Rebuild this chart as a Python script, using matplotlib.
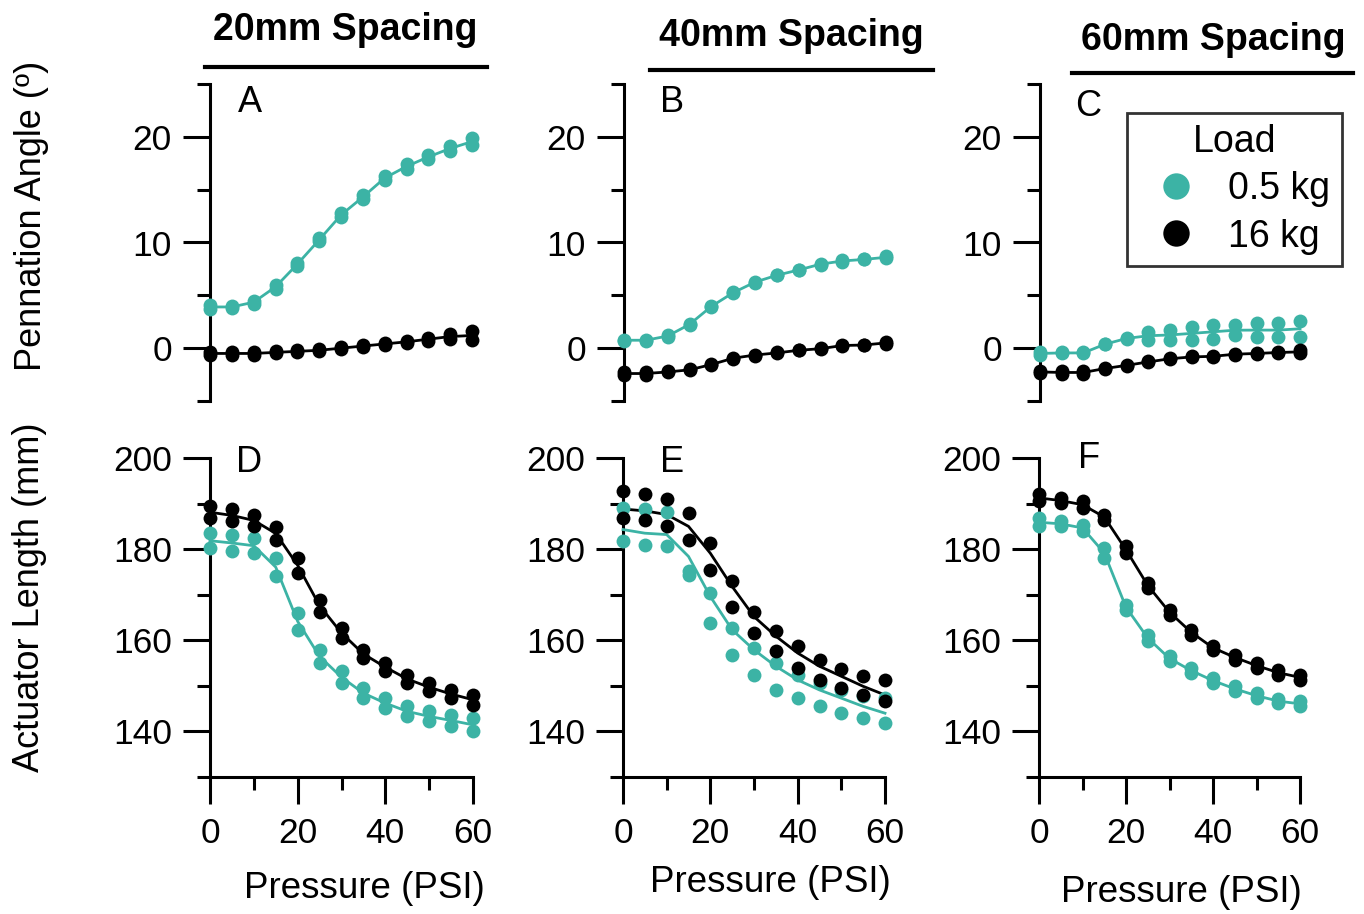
import matplotlib
matplotlib.use("Agg")
import matplotlib.pyplot as plt
from matplotlib.lines import Line2D
import numpy as np

plt.rcParams['font.family'] = ['Liberation Sans', 'DejaVu Sans']

# ---------------- data ----------------
pressure = [0, 5, 10, 15, 20, 25, 30, 35, 40, 45, 50, 55, 60]

# Pennation angle (deg) -- two trials per load
A_teal_1 = [4.1, 4.0, 4.5, 6.0, 8.1, 10.4, 12.8, 14.5, 16.3, 17.4, 18.3, 19.1, 19.9]
A_teal_2 = [3.7, 3.8, 4.2, 5.6, 7.8, 10.1, 12.4, 14.1, 15.9, 17.0, 17.9, 18.7, 19.2]
A_black_1 = [-0.4, -0.4, -0.4, -0.3, -0.2, -0.1, 0.1, 0.3, 0.5, 0.7, 1.0, 1.3, 1.6]
A_black_2 = [-0.6, -0.6, -0.6, -0.5, -0.4, -0.3, -0.1, 0.1, 0.3, 0.5, 0.7, 0.9, 0.8]

B_teal_1 = [0.8, 0.8, 1.2, 2.3, 4.0, 5.3, 6.3, 6.9, 7.4, 8.0, 8.3, 8.4, 8.7]
B_teal_2 = [0.7, 0.7, 1.1, 2.2, 3.9, 5.2, 6.2, 6.9, 7.4, 7.9, 8.2, 8.4, 8.5]
B_black_1 = [-2.3, -2.3, -2.2, -2.0, -1.5, -0.9, -0.6, -0.4, -0.2, 0.0, 0.3, 0.3, 0.6]
B_black_2 = [-2.5, -2.5, -2.3, -2.1, -1.6, -1.0, -0.7, -0.5, -0.2, -0.1, 0.2, 0.3, 0.4]

C_teal_1 = [-0.4, -0.4, -0.4, 0.4, 1.0, 1.55, 1.7, 2.0, 2.2, 2.2, 2.35, 2.35, 2.6]
C_teal_2 = [-0.6, -0.5, -0.5, 0.35, 0.85, 0.8, 0.8, 0.8, 0.9, 1.2, 1.07, 1.07, 1.07]
C_black_1 = [-2.15, -2.2, -2.2, -1.85, -1.55, -1.25, -0.95, -0.78, -0.72, -0.52, -0.45, -0.35, -0.2]
C_black_2 = [-2.35, -2.4, -2.4, -2.0, -1.7, -1.35, -1.05, -0.88, -0.82, -0.62, -0.55, -0.47, -0.5]

# Actuator length (mm)
D_teal_1 = [183.5, 183.2, 182.4, 178.1, 166.0, 157.9, 153.2, 149.5, 147.3, 145.5, 144.4, 143.7, 142.9]
D_teal_2 = [180.2, 179.5, 179.1, 174.0, 162.3, 155.0, 150.6, 147.3, 145.1, 143.3, 142.2, 141.1, 140.0]
D_black_1 = [189.4, 188.7, 187.6, 184.8, 178.1, 168.9, 162.7, 157.9, 155.0, 152.4, 150.6, 149.1, 148.0]
D_black_2 = [186.8, 186.1, 185.0, 182.1, 174.8, 166.3, 160.5, 156.1, 153.2, 150.6, 148.8, 147.3, 145.9]

E_teal_1 = [189.0, 188.7, 188.1, 175.1, 170.4, 162.7, 158.3, 155.0, 152.4, 150.6, 149.1, 147.7, 147.3]
E_teal_2 = [181.7, 181.0, 180.6, 174.4, 163.8, 156.8, 152.4, 149.1, 147.3, 145.5, 144.0, 142.9, 141.8]
E_black_1 = [192.7, 192.2, 190.9, 187.9, 181.3, 172.9, 166.3, 162.0, 158.7, 155.7, 153.7, 152.1, 151.2]
E_black_2 = [186.8, 186.5, 185.0, 182.1, 175.5, 167.4, 161.6, 157.6, 153.9, 151.3, 149.5, 148.0, 146.6]
E_teal_fit = [184.3, 183.5, 183.2, 178.4, 169.6, 162.3, 157.9, 154.3, 151.3, 149.1, 147.3, 145.5, 144.0]
E_black_fit = [188.8, 188.4, 187.6, 185.0, 179.1, 171.8, 165.2, 160.9, 157.2, 154.3, 152.1, 149.9, 148.0]

F_teal_1 = [186.8, 186.1, 185.4, 180.2, 167.8, 161.2, 156.6, 153.9, 151.7, 149.9, 148.4, 147.1, 146.6]
F_teal_2 = [185.0, 185.0, 183.9, 178.1, 166.7, 159.8, 155.4, 152.8, 150.6, 148.8, 147.3, 146.2, 145.5]
F_black_1 = [192.0, 191.2, 190.5, 187.6, 180.6, 172.6, 166.7, 162.3, 158.8, 156.8, 155.0, 153.4, 152.4]
F_black_2 = [190.5, 190.1, 189.0, 186.5, 179.1, 171.5, 165.6, 161.2, 157.9, 155.7, 153.9, 152.4, 151.3]

loads = ['0.5 kg', '16 kg']
spacings = ['20mm Spacing', '40mm Spacing', '60mm Spacing']
panel_letters = ['A', 'B', 'C', 'D', 'E', 'F']
top_major = [0, 10, 20]
top_minor = [-5, 5, 15, 25]
bot_major = [140, 160, 180, 200]
bot_minor = [130, 150, 170, 190]
x_major = [0, 20, 40, 60]
x_minor = [10, 30, 50]

TEAL = '#3CB3A5'
BLACK = '#000000'

W, H = 1364, 914
fig = plt.figure(figsize=(W / 100, H / 100), dpi=100)


def fx(px):
    return px / W


def fy(py):
    return 1 - py / H


# axes rectangles in pixel coordinates: (left, right, top, bottom)
top_rects = [(210, 472, 84, 401), (624, 886, 84, 401), (1040, 1300, 84, 401)]
bot_rects = [(210, 473, 458, 777), (623, 885, 458, 777), (1039, 1300, 458, 777)]


def make_ax(r):
    l, rr, t, b = r
    return fig.add_axes([fx(l), fy(b), fx(rr - l), (b - t) / H])


SP_LW = 2.2
MS = 10
LW = 2.0


def style_ax(ax, top):
    for s in ['top', 'right']:
        ax.spines[s].set_visible(False)
    ax.spines['left'].set_linewidth(SP_LW)
    ax.spines['bottom'].set_linewidth(SP_LW)
    ax.set_xlim(0, 60)
    if top:
        ax.spines['bottom'].set_visible(False)
        ax.set_ylim(-5, 25)
        ax.set_yticks(top_major)
        ax.set_yticks(top_minor, minor=True)
        ax.set_xticks([])
    else:
        ax.set_ylim(130, 200)
        ax.set_yticks(bot_major)
        ax.set_yticks(bot_minor, minor=True)
        ax.set_xticks(x_major)
        ax.set_xticks(x_minor, minor=True)
    ax.tick_params(axis='both', which='major', length=19.5, width=SP_LW,
                   labelsize=25.5, pad=9, color='black')
    ax.tick_params(axis='both', which='minor', length=9.5, width=SP_LW, color='black')
    ax.tick_params(axis='y', which='major', pad=8)
    ax.patch.set_visible(False)


def plot_pair(ax, t1, t2, color, fit=None):
    if fit is None:
        fit = (np.array(t1) + np.array(t2)) / 2.0
    ax.plot(pressure, fit, color=color, lw=LW, clip_on=False, zorder=3)
    ax.plot(pressure, t1, 'o', color=color, ms=MS, mec='none', clip_on=False, zorder=4)
    ax.plot(pressure, t2, 'o', color=color, ms=MS, mec='none', clip_on=False, zorder=4)


top_data = [
    (A_teal_1, A_teal_2, A_black_1, A_black_2, None, None),
    (B_teal_1, B_teal_2, B_black_1, B_black_2, None, None),
    (C_teal_1, C_teal_2, C_black_1, C_black_2, None, None),
]
bot_data = [
    (D_teal_1, D_teal_2, D_black_1, D_black_2, None, None),
    (E_teal_1, E_teal_2, E_black_1, E_black_2, E_teal_fit, E_black_fit),
    (F_teal_1, F_teal_2, F_black_1, F_black_2, None, None),
]

axes_top = []
axes_bot = []
for r, d in zip(top_rects, top_data):
    ax = make_ax(r)
    style_ax(ax, True)
    plot_pair(ax, d[0], d[1], TEAL, d[4])
    plot_pair(ax, d[2], d[3], BLACK, d[5])
    axes_top.append(ax)
for r, d in zip(bot_rects, bot_data):
    ax = make_ax(r)
    style_ax(ax, False)
    plot_pair(ax, d[0], d[1], TEAL, d[4])
    plot_pair(ax, d[2], d[3], BLACK, d[5])
    axes_bot.append(ax)

# panel letters
letter_pos = [(238, 102), (660, 103), (1075, 107), (236, 462), (660, 462), (1078, 458)]
for lab, (px, py) in zip(panel_letters, letter_pos):
    fig.text(fx(px), fy(py), lab, fontsize=26, ha='left', va='center')

# column titles with rules
title_pos = [(345, 40), (791, 46), (1213, 50)]
rule_pos = [(205, 487, 67), (650, 933, 70), (1072, 1353, 73)]
for t, (px, py), (x0, x1, yy) in zip(spacings, title_pos, rule_pos):
    fig.text(fx(px), fy(py), t, fontsize=27, fontweight='bold', ha='center', va='baseline')
    fig.add_artist(Line2D([fx(x0), fx(x1)], [fy(yy), fy(yy)], color='black', lw=3,
                          transform=fig.transFigure))

# axis labels
fig.text(fx(32), fy(216), 'Pennation Angle (º)', fontsize=26, rotation=90,
         ha='center', va='center')
fig.text(fx(30), fy(597), 'Actuator Length (mm)', fontsize=26, rotation=90,
         ha='center', va='center')
xl_pos = [(364, 888), (770, 882), (1181, 892)]
for (px, py) in xl_pos:
    fig.text(fx(px), fy(py), 'Pressure (PSI)', fontsize=26.5, ha='center', va='center')

# legend in panel C
handles = [Line2D([], [], marker='o', ls='none', color=TEAL, mec='none', ms=19),
           Line2D([], [], marker='o', ls='none', color=BLACK, mec='none', ms=19)]
axC = axes_top[2]
leg = axC.legend(handles, loads, title='Load', loc='upper left',
                 bbox_to_anchor=(0.335, 0.909), bbox_transform=axC.transAxes,
                 fontsize=27, title_fontsize=27, frameon=True, fancybox=False,
                 borderpad=0.3, handlelength=2.0, handletextpad=0.4,
                 labelspacing=0.3, borderaxespad=0.0)
leg.get_frame().set_edgecolor('black')
leg.get_frame().set_linewidth(2.0)
leg.get_title().set_ha('center')

fig.savefig('out.png', dpi=100)
